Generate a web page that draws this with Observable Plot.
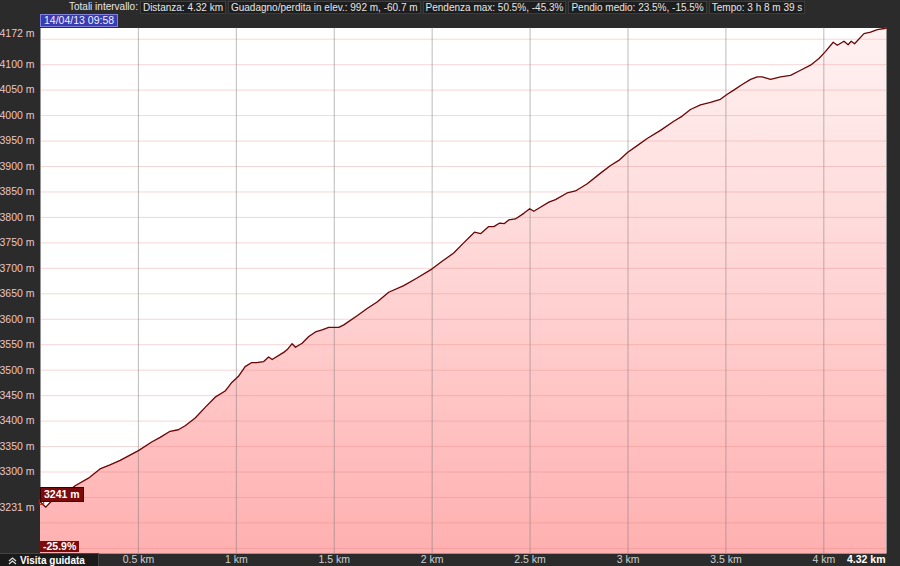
<!DOCTYPE html>
<html><head><meta charset="utf-8">
<script src="https://cdn.jsdelivr.net/npm/d3@7"></script>
<script src="https://cdn.jsdelivr.net/npm/@observablehq/plot@0.6"></script>
<style>
html,body{margin:0;padding:0;background:#2b2b2b;width:900px;height:566px;overflow:hidden;font-family:"Liberation Sans",Arial,sans-serif;}
#wrap{position:relative;width:900px;height:566px;}
#chart{position:absolute;left:0;top:0;}
.ov{position:absolute;font-size:10px;line-height:11px;color:#e0e0e0;white-space:nowrap;}
#hdr{position:absolute;left:69px;top:1px;display:flex;gap:2px;font-size:10px;line-height:11px;color:#e6e6e6;white-space:nowrap;}
.box{background:#1d1d1d;border:1px solid #3c3c3c;padding:0 2px;}
</style></head>
<body><div id="wrap"><div id="chart"></div><div id="hdr"></div></div>
<script>
// distance (km) and elevation (m) read from the profile
const distanceKm = [0,0.027,0.057,0.083,0.177,0.245,0.304,0.355,0.407,0.5,0.568,0.611,0.662,0.704,0.739,0.79,0.841,0.892,0.943,0.977,1.011,1.045,1.079,1.104,
1.14,1.165,1.183,1.242,1.259,1.285,1.302,1.336,1.37,1.404,1.438,1.472,1.523,1.549,1.617,1.668,1.719,1.778,1.855,1.923,2.0,2.051,2.11,2.161,2.216,2.247,2.289,2.315,2.345,
2.369,2.391,2.425,2.468,2.498,2.519,2.553,2.596,2.63,2.689,2.732,2.792,2.86,2.911,2.953,2.999,3.047,3.098,3.166,3.234,3.277,3.319,3.37,3.421,3.472,
3.507,3.54,3.583,3.626,3.66,3.685,3.728,3.779,3.83,3.881,3.932,3.975,4.009,4.048,4.069,4.103,4.124,4.14,4.157,4.205,4.239,4.273,4.31,4.32];
const elevationM = [3241,3231,3243,3245,3273,3288,3306,3314,3323,3342,3359,3368,3380,3383,3391,3406,3427,3447,3459,3476,3488,3507,3515,3515,
3517,3526,3521,3535,3540,3552,3545,3553,3566,3575,3579,3584,3584,3589,3607,3621,3634,3653,3666,3681,3699,3714,3730,3750,3771,3768,3782,3782,3789,
3788,3795,3797,3808,3817,3812,3820,3830,3835,3848,3852,3866,3887,3902,3912,3928,3941,3955,3971,3989,3999,4012,4021,4026,4032,
4042,4050,4061,4071,4076,4076,4071,4076,4079,4089,4099,4112,4126,4144,4138,4146,4139,4146,4141,4161,4164,4169,4171,4172];
const yTickValues = [3300,3350,3400,3450,3500,3550,3600,3650,3700,3750,3800,3850,3900,3950,4000,4050,4100];
const yGridValues = [3150,3200,3250,3300,3350,3400,3450,3500,3550,3600,3650,3700,3750,3800,3850,3900,3950,4000,4050,4100,4150];
const xTickValues = [0.5,1,1.5,2,2.5,3,3.5,4];
const maxElev = 4172, minElev = 3231, startElev = 3241, totalKm = 4.32;
const headerLabel = "Totali intervallo:";
const headerItems = [
  "Distanza: 4.32 km",
  "Guadagno/perdita in elev.: 992 m, -60.7 m",
  "Pendenza max: 50.5%, -45.3%",
  "Pendio medio: 23.5%, -15.5%",
  "Tempo: 3 h 8 m 39 s"
];

const data = distanceKm.map((d,i)=>({d, e: elevationM[i]}));

const chart = Plot.plot({
  width: 900, height: 566,
  marginLeft: 40, marginRight: 14, marginTop: 27.5, marginBottom: 13,
  style: {background: "transparent", fontFamily: "Liberation Sans, Arial, sans-serif", fontSize: "10px"},
  x: {domain: [0, totalKm], label: null},
  y: {domain: [3140, maxElev], label: null},
  marks: [
    Plot.frame({fill: "white", stroke: "none"}),
    Plot.areaY(data, {x: "d", y1: 3140, y2: "e", fill: "url(#elevGrad)"}),
    Plot.gridY(yGridValues, {stroke: "#e07a7a", strokeOpacity: 0.3, strokeWidth: 1}),
    Plot.gridX(xTickValues, {stroke: "#7a7a7a", strokeOpacity: 0.5, strokeWidth: 1}),
    Plot.line(data, {x: "d", y: "e", stroke: "#6a0808", strokeWidth: 1.3}),
    Plot.axisY(yTickValues, {label: null, tickSize: 0, tickPadding: 6, tickFormat: d => d + " m", color: "#efc4c4", fontSize: 10.5}),
    Plot.axisY([maxElev], {label: null, tickSize: 0, tickPadding: 6, tickFormat: d => d + " m", color: "#efc4c4", fontSize: 10.5, dy: 6}),
    Plot.axisY([minElev], {label: null, tickSize: 0, tickPadding: 6, tickFormat: d => d + " m", color: "#efc4c4", fontSize: 10.5}),
    Plot.axisX(xTickValues, {label: null, tickSize: 0, tickPadding: 2, tickFormat: d => d + " km", color: "#cfcfcf", fontSize: 10.5}),
    Plot.axisX([totalKm], {label: null, tickSize: 0, tickPadding: 2, tickFormat: d => d + " km", color: "#ffffff", fontSize: 10.5, fontWeight: "bold", textAnchor: "end", dx: -1}),
    Plot.dot([{d: 0.005, e: startElev}], {x: "d", y: "e", r: 2.5, stroke: "#d01010", strokeWidth: 1, symbol: "square", fill: "none"})
  ]
});
d3.select(chart).insert("defs", ":first-child").html(
  `<linearGradient id="elevGrad" gradientUnits="userSpaceOnUse" x1="0" y1="27.5" x2="0" y2="553">
     <stop offset="0" stop-color="#fff2f2"/>
     <stop offset="0.5" stop-color="#ffd3d3"/>
     <stop offset="1" stop-color="#ffb0b0"/>
   </linearGradient>`);
document.getElementById("chart").appendChild(chart);

const hdr = document.getElementById("hdr");
const lab = document.createElement("span"); lab.textContent = headerLabel; hdr.appendChild(lab);
headerItems.forEach(t => { const s = document.createElement("span"); s.className = "box"; s.textContent = t; hdr.appendChild(s); });

const wrap = document.getElementById("wrap");
function ov(html, style){ const el=document.createElement("div"); el.className="ov"; el.innerHTML=html; Object.assign(el.style, style); wrap.appendChild(el); return el; }
ov("14/04/13 09:58", {left:"40px", top:"14px", background:"#3b3bb0", border:"1px solid #8080e0", color:"#f0f0ff", padding:"0 3px", height:"11px", fontSize:"10.5px"});
ov("3241 m", {left:"40px", top:"487px", background:"#7c0a0a", border:"1px solid #3a0000", color:"#fff", padding:"1px 3px", fontWeight:"bold", fontSize:"10.5px"});
ov("-25.9%", {left:"40px", top:"541px", background:"#7c0a0a", color:"#fff", padding:"0 3px", fontWeight:"bold", fontSize:"10.5px"});
ov('<svg width="9" height="9" style="vertical-align:-1px;margin-right:3px"><path d="M1 5 L4.5 2 L8 5 M1 8 L4.5 5 L8 8" fill="none" stroke="#ddd" stroke-width="1.3"/></svg>Visita guidata',
   {left:"0px", top:"553px", width:"99px", height:"13px", background:"#1a1a1a", borderTop:"1px solid #444", borderRight:"1px solid #444", color:"#fff", fontWeight:"bold", padding:"1px 0 0 8px", boxSizing:"border-box", fontSize:"10px"});
</script></body></html>
